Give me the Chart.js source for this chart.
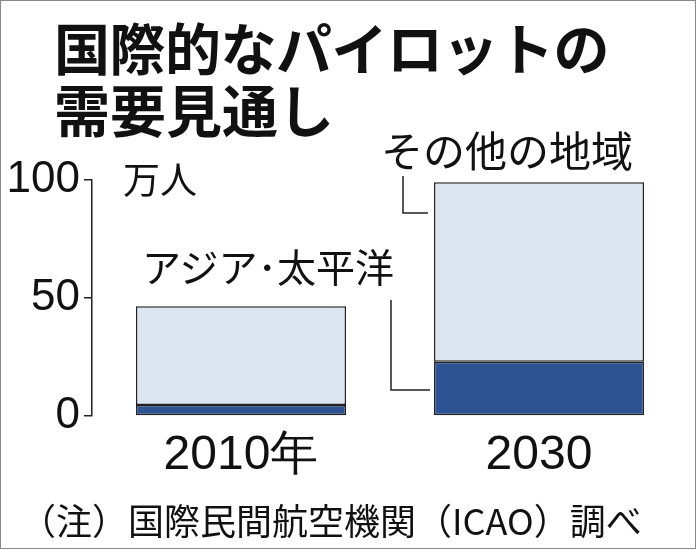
<!DOCTYPE html>
<html><head><meta charset="utf-8">
<script src="https://cdn.jsdelivr.net/npm/chart.js@4/dist/chart.umd.min.js"></script>
<style>
html,body{margin:0;padding:0;background:#fff;}
#wrap{position:relative;width:696px;height:549px;overflow:hidden;}
#frame{position:absolute;left:0;top:0;width:694px;height:547px;border:1px solid #888;pointer-events:none;}
.t{position:absolute;font-family:"Noto Sans CJK JP",sans-serif;color:#111;white-space:nowrap;line-height:1;}
</style></head><body>
<div id="wrap">
<canvas id="c" width="696" height="549"></canvas>
<div class="t" style="left:54px;top:18px;font-size:56px;font-weight:bold;letter-spacing:-0.5px;">国際的なパイロットの</div>
<div class="t" style="left:54px;top:80px;font-size:56px;font-weight:bold;">需要見通し</div>
<div class="t" style="left:123px;top:160px;font-size:37px;">万人</div>
<div class="t" style="left:142px;top:246px;font-size:39px;">アジア･太平洋</div>
<div class="t" style="left:381px;top:128px;font-size:42px;">その他の地域</div>
<div class="t" style="left:20px;top:501px;font-size:36px;">（注）国際民間航空機関（ICAO）調べ</div>
<div id="frame"></div>
</div>
<script>
const categories = ["2010年", "2030"];
const asiaPacific = [4.7, 23];
const otherRegions = [41.8, 76];
const yTicks = [0, 50, 100];

const overlay = {
  id: 'overlay',
  afterDraw(chart) {
    const ctx = chart.ctx, x = chart.scales.x;
    ctx.save();
    ctx.fillStyle = '#111';
    ctx.font = '48px "Liberation Sans Narrow", "Liberation Sans", sans-serif';
    ctx.textAlign = 'center';
    ctx.textBaseline = 'middle';
    categories.forEach((c, i) => ctx.fillText(c, x.getPixelForValue(i), 456));
    ctx.strokeStyle = '#222';
    ctx.lineWidth = 1.5;
    ctx.beginPath();
    ctx.moveTo(391, 300); ctx.lineTo(391, 390); ctx.lineTo(430, 390);
    ctx.stroke();
    ctx.beginPath();
    ctx.moveTo(403, 176); ctx.lineTo(403, 213); ctx.lineTo(428, 213);
    ctx.stroke();
    ctx.restore();
  }
};

new Chart(document.getElementById('c'), {
  type: 'bar',
  data: {
    labels: categories,
    datasets: [
      { data: asiaPacific, backgroundColor: '#2d5392', borderColor: '#222', borderWidth: 1.5, borderSkipped: false },
      { data: otherRegions, backgroundColor: '#dde6f0', borderColor: '#222', borderWidth: 1.5, borderSkipped: false }
    ]
  },
  options: {
    responsive: false, animation: false, devicePixelRatio: 1,
    layout: { padding: { top: 180, right: 8, left: 0, bottom: 0 } },
    plugins: { legend: { display: false }, tooltip: { enabled: false } },
    datasets: { bar: { barPercentage: 0.705, categoryPercentage: 1 } },
    scales: {
      x: { stacked: true, ticks: { display: false }, grid: { display: false }, border: { display: false },
           afterFit(s) { s.height = 133; } },
      y: { stacked: true, min: 0, max: 100,
           afterBuildTicks(s) { s.ticks = yTicks.map(v => ({ value: v })); },
           ticks: { color: '#111', font: { size: 44, family: '"Liberation Sans Narrow", "Liberation Sans", sans-serif' }, padding: 4 },
           grid: { drawOnChartArea: false, tickLength: 8, color: '#222', lineWidth: 1.5 },
           border: { display: true, color: '#222', width: 1.5 },
           afterFit(s) { s.width = 92; } }
    }
  },
  plugins: [overlay]
});
</script>
</body></html>
